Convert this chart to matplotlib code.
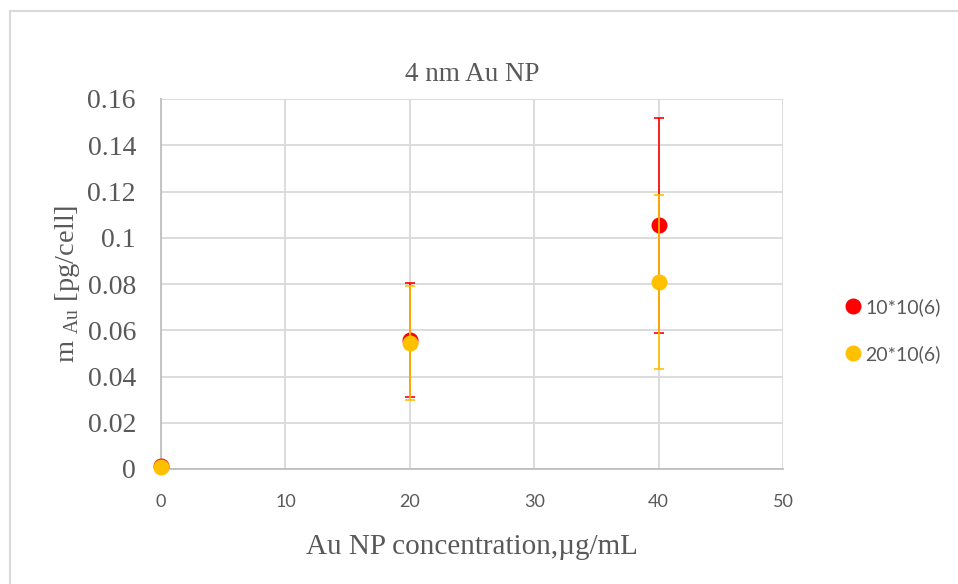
import matplotlib
matplotlib.use('Agg')
import matplotlib.pyplot as plt
from matplotlib.lines import Line2D

# data
conc = [0, 20, 40]
m_10 = [0.0015, 0.0558, 0.1055]
err_10 = [0.0, 0.0248, 0.0465]
m_20 = [0.0008, 0.0545, 0.0809]
err_20 = [0.0, 0.0247, 0.0378]
series_names = ['10*10(6)', '20*10(6)']
x_ticks = [0, 10, 20, 30, 40, 50]
y_ticks = [0, 0.02, 0.04, 0.06, 0.08, 0.1, 0.12, 0.14, 0.16]
y_ticklabels = ['0', '0.02', '0.04', '0.06', '0.08', '0.1', '0.12', '0.14', '0.16']

plt.rcParams['mathtext.fontset'] = 'custom'
plt.rcParams['mathtext.rm'] = 'Liberation Serif'

grey = '#595959'
gridc = '#D9D9D9'
red = '#FF0000'
yellow = '#FFC000'
colors = [red, yellow]

fig = plt.figure(figsize=(9.58, 5.84), dpi=100)
ax = fig.add_axes([161 / 958, 1 - 469 / 584, (783 - 161) / 958, (469 - 99) / 584])

for i, (m, e) in enumerate([(m_10, err_10), (m_20, err_20)]):
    ax.errorbar(conc, m, yerr=e, fmt='o', color=colors[i], ecolor=colors[i],
                markersize=10.5, capsize=3.6, elinewidth=1.2, capthick=1.2,
                zorder=3 + i)

ax.set_xlim(0, 50)
ax.set_ylim(0, 0.16)
ax.set_xticks(x_ticks)
ax.set_yticks(y_ticks)
ax.set_yticklabels(y_ticklabels, family='Liberation Serif', fontsize=20, color=grey)
ax.set_xticklabels([str(t) for t in x_ticks], family='Lato', fontsize=13, color=grey)
ax.tick_params(axis='x', length=0, pad=18)
ax.tick_params(axis='y', length=0, pad=18)
ax.grid(True, color=gridc, linewidth=1.3)
ax.set_axisbelow(True)
for s in ['top', 'right']:
    ax.spines[s].set_visible(False)
for s in ['left', 'bottom']:
    ax.spines[s].set_color('#BFBFBF')
    ax.spines[s].set_linewidth(1.3)
for a in ax.collections + ax.lines:
    a.set_clip_on(False)

ax.set_title('4 nm Au NP', family='Liberation Serif', fontsize=19.5, color=grey, pad=13)
ax.set_xlabel('Au NP concentration,µg/mL', family='Liberation Serif', fontsize=21,
              color=grey, labelpad=17)
ax.set_ylabel(r'm $_{\mathrm{Au}}$ [pg/cell]', family='Liberation Serif', fontsize=20.5,
              color=grey, labelpad=4)

handles = [Line2D([], [], linestyle='none', marker='o', markersize=10.5, color=c)
           for c in colors]
leg = ax.legend(handles, series_names, loc='center left', bbox_to_anchor=(1.065, 0.375),
                frameon=False, prop={'family': 'Lato', 'size': 14}, handletextpad=0.05,
                labelspacing=1.5, handlelength=1.2)
for t in leg.get_texts():
    t.set_color(grey)

# chart frame (top and left edge)
fig.add_artist(Line2D([10 / 958, 10 / 958], [0, 1 - 11 / 584], color=gridc, linewidth=1.5))
fig.add_artist(Line2D([10 / 958, 1], [1 - 11 / 584, 1 - 11 / 584], color=gridc, linewidth=1.5))

fig.savefig('out.png', dpi=100)
